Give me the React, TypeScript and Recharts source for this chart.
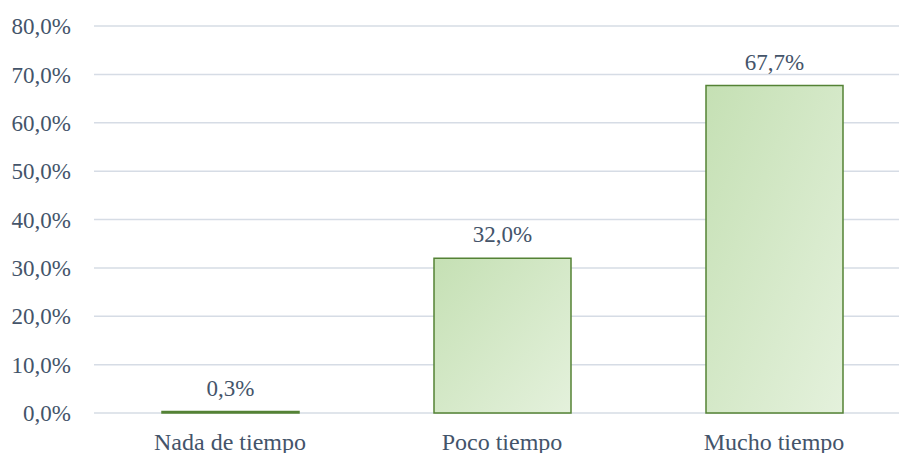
import { BarChart, Bar, XAxis, YAxis, CartesianGrid, LabelList } from 'recharts';

const categories = ['Nada de tiempo', 'Poco tiempo', 'Mucho tiempo'];
const percentages = [0.3, 32.0, 67.7];
const yTicks = [0, 10, 20, 30, 40, 50, 60, 70, 80];

const data = categories.map((name, i) => ({ name, value: percentages[i] }));

const fmt = (v: number) => `${v.toFixed(1).replace('.', ',')}%`;

const font = '"Liberation Serif", "Times New Roman", serif';
const textColor = '#44546A';

const App = () => {
  return (
    <div
      style={{
        position: 'fixed',
        top: 0,
        left: 0,
        width: 899,
        height: 453,
        overflow: 'hidden',
        background: '#fff',
      }}
    >
      <BarChart
        width={930}
        height={453}
        data={data}
        margin={{ top: 26, right: 20, bottom: 0, left: 0 }}
        style={{ fontFamily: font }}
      >
        <defs>
          <linearGradient id="barFill" x1="0" y1="0" x2="1" y2="1">
            <stop offset="0%" stopColor="#C5E0B4" />
            <stop offset="100%" stopColor="#E4F1DC" />
          </linearGradient>
        </defs>
        <CartesianGrid vertical={false} stroke="#D6DCE5" strokeWidth={1.5} />
        <XAxis
          dataKey="name"
          axisLine={false}
          tickLine={false}
          height={40}
          tickSize={0}
          tickMargin={20}
          tick={{ fill: textColor, fontSize: 24, fontFamily: font }}
        />
        <YAxis
          domain={[0, 80]}
          ticks={yTicks}
          width={94}
          axisLine={false}
          tickLine={false}
          tickSize={0}
          tickMargin={23}
          tickFormatter={fmt}
          tick={{ fill: textColor, fontSize: 23, fontFamily: font }}
        />
        <Bar
          dataKey="value"
          fill="url(#barFill)"
          stroke="#548235"
          strokeWidth={1.5}
          barSize={137}
          isAnimationActive={false}
        >
          <LabelList
            dataKey="value"
            position="top"
            offset={16}
            formatter={(v: number) => fmt(v)}
            style={{ fill: textColor, fontSize: 23, fontFamily: font }}
          />
        </Bar>
      </BarChart>
    </div>
  );
};

export default App;
